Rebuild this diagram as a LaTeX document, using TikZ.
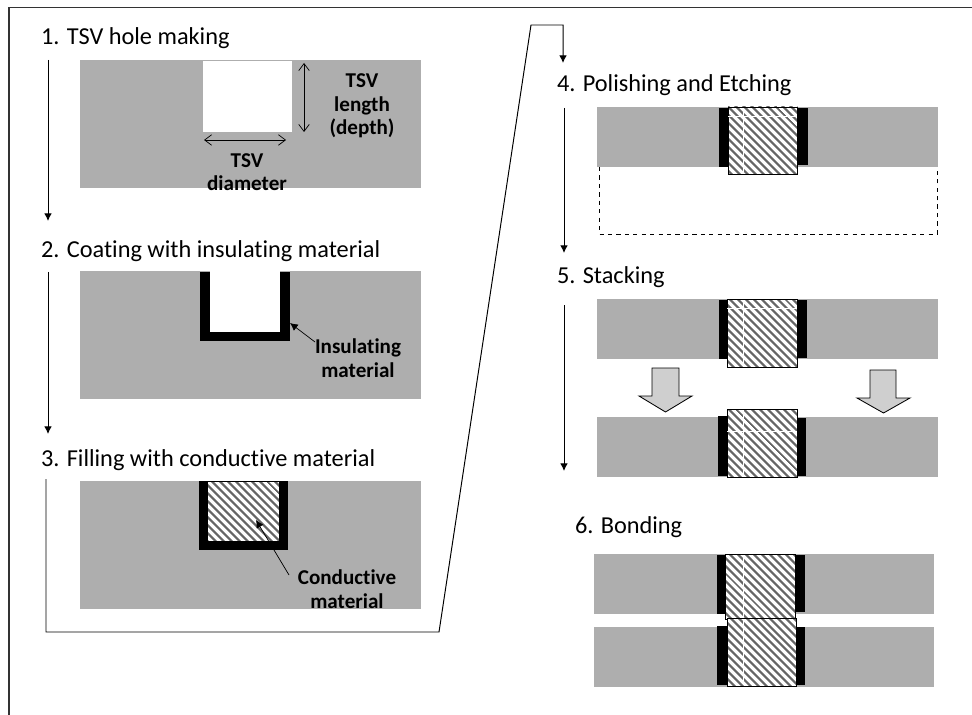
\documentclass[tikz,border=0pt]{standalone}
\usepackage{fontspec}
\setmainfont[Ligatures=NoCommon]{Carlito}
\usetikzlibrary{patterns.meta,arrows.meta}
\definecolor{waferg}{HTML}{AEAEAE}
\definecolor{arrowg}{HTML}{CFCFCF}
\definecolor{hatchg}{HTML}{666666}
\begin{document}
\begin{tikzpicture}[x=0.025cm,y=-0.025cm]
\tikzset{ >={Latex[length=5.5pt,width=5.5pt]}, inner sep=0pt, outer sep=0pt,
  wafer/.style={fill=waferg},
  liner/.style={fill=black},
  plug/.style={draw=black, line width=0.6pt, preaction={fill=white}, pattern={Lines[angle=-45,distance=4pt,line width=1.7pt]}, pattern color=hatchg},
  seam/.style={white, line width=0.5pt},
  flow/.style={->, line width=0.7pt},
  dim/.style={{Straight Barb[length=5pt,width=7.5pt]}-{Straight Barb[length=5pt,width=7.5pt]}, line width=0.5pt},
  lead/.style={<-, line width=0.5pt},
  big/.style={fill=arrowg, draw=black, line width=0.6pt},
  steplabel/.style={font=\fontsize{17.3}{20}\selectfont, anchor=west},
  tag/.style={font=\fontsize{15}{16.7}\selectfont\bfseries, align=center},
}
\useasboundingbox (0,0) rectangle (972,715);

\draw [line width=1pt, black!80] (9,715) -- (9,7.5) -- (972,7.5);

% step labels
\node [steplabel] (S1) at (41,38)  {1. TSV hole making};
\node [steplabel] (S2) at (41,251) {2. Coating with insulating material};
\node [steplabel] (S3) at (41,460) {3. Filling with conductive material};
\node [steplabel] (S4) at (557,85) {4. Polishing and Etching};
\node [steplabel] (S5) at (557,277) {5. Stacking};
\node [steplabel] (S6) at (575,527) {6. Bonding};

% flow arrows
\coordinate (A1) at (48,60);
\coordinate (B1) at (48,221);
\coordinate (A2) at (48,272);
\coordinate (B2) at (48,434);
\coordinate (A3) at (46,479);
\coordinate (C1) at (46,632);
\coordinate (C2) at (439,632);
\coordinate (C3) at (531,25);
\coordinate (C4) at (563,25);
\coordinate (B3) at (563,63);
\coordinate (A4) at (564,108);
\coordinate (B4) at (564,253);
\coordinate (A5) at (564,305);
\coordinate (B5) at (564,471);
\draw [flow] (A1) -- (B1);
\draw [flow] (A2) -- (B2);
\draw [flow] (A3) -- (C1) -- (C2) -- (C3) -- (C4) -- (B3);
\draw [flow] (A4) -- (B4);
\draw [flow] (A5) -- (B5);

% step 1
\fill [wafer] (80,60) rectangle (421,188);
\fill [white] (203,61) rectangle (292,132);
\coordinate (D1) at (304,63);
\coordinate (D2) at (304,132);
\coordinate (D3) at (204,140);
\coordinate (D4) at (286,140);
\draw [dim] (D1) -- (D2);
\draw [dim] (D3) -- (D4);
\node [tag] (T1) at (362,106) {TSV\\length\\(depth)};
\node [tag] (T2) at (247,172) {TSV\\diameter};

% step 2
\fill [wafer] (80,271) rectangle (421,399);
\fill [liner] (200,272) rectangle (289.5,341);
\fill [white] (210,271) rectangle (280,332);
\node [tag] (T3) at (358,358) {Insulating\\material};
\coordinate (L1) at (290,323);
\coordinate (L2) at (315,342);
\draw [lead] (L1) -- (L2);

% step 3
\fill [wafer] (80,481) rectangle (421,609);
\fill [liner] (199,481) rectangle (288,550);
\draw [plug] (207.5,481) rectangle (279.5,541);
\node [tag] (T4) at (347,589) {Conductive\\material};
\coordinate (L3) at (256,520);
\coordinate (L4) at (289,575);
\draw [lead] (L3) -- (L4);

% step 4
\fill [wafer] (597,107) rectangle (938,167);
\draw [dashed, line width=0.6pt] (599,167) -- (599,234) -- (937,234) -- (937,167);
\fill [liner] (719,108) rectangle (728,167);
\fill [liner] (797,108) rectangle (808,165);
\draw [plug] (728,107) rectangle (797.5,174.5);
\draw [seam] (743,108) -- (743,174);
\draw [seam] (728,116) -- (797,116);

% step 5
\fill [wafer] (597,299) rectangle (938,359);
\fill [liner] (719,300) rectangle (728,359);
\fill [liner] (797,300) rectangle (807,358);
\draw [plug] (727,299) rectangle (797,367);
\draw [seam] (743,300) -- (743,366);
\draw [seam] (727,308) -- (797,308);
\draw [big] (652,368) -- (679,368) -- (679,396) -- (692,396) -- (665.5,412) -- (639,396) -- (652,396) -- cycle;
\draw [big] (870,370) -- (896,370) -- (896,398) -- (910,398) -- (883.5,413) -- (857,398) -- (870,398) -- cycle;
\fill [wafer] (597,417) rectangle (938,477);
\fill [liner] (718,416) rectangle (727,476);
\fill [liner] (797,418) rectangle (806,476);
\draw [plug] (727,409.5) rectangle (797.5,477);
\draw [seam] (743,410) -- (743,476);
\draw [seam] (727,431) -- (797,431);

% step 6
\fill [wafer] (594,554) rectangle (934,614);
\fill [wafer] (594,627) rectangle (934,687);
\fill [liner] (717,555) rectangle (725.5,614);
\fill [liner] (795,555) rectangle (805,612);
\fill [liner] (717,626) rectangle (727,685);
\fill [liner] (796,627) rectangle (805,685);
\draw [plug] (725.5,554) rectangle (795,619);
\draw [plug] (727,618) rectangle (796.5,686);
\draw [seam] (743,555) -- (743,618);
\draw [seam] (743,619) -- (743,685);

\end{tikzpicture}
\end{document}
